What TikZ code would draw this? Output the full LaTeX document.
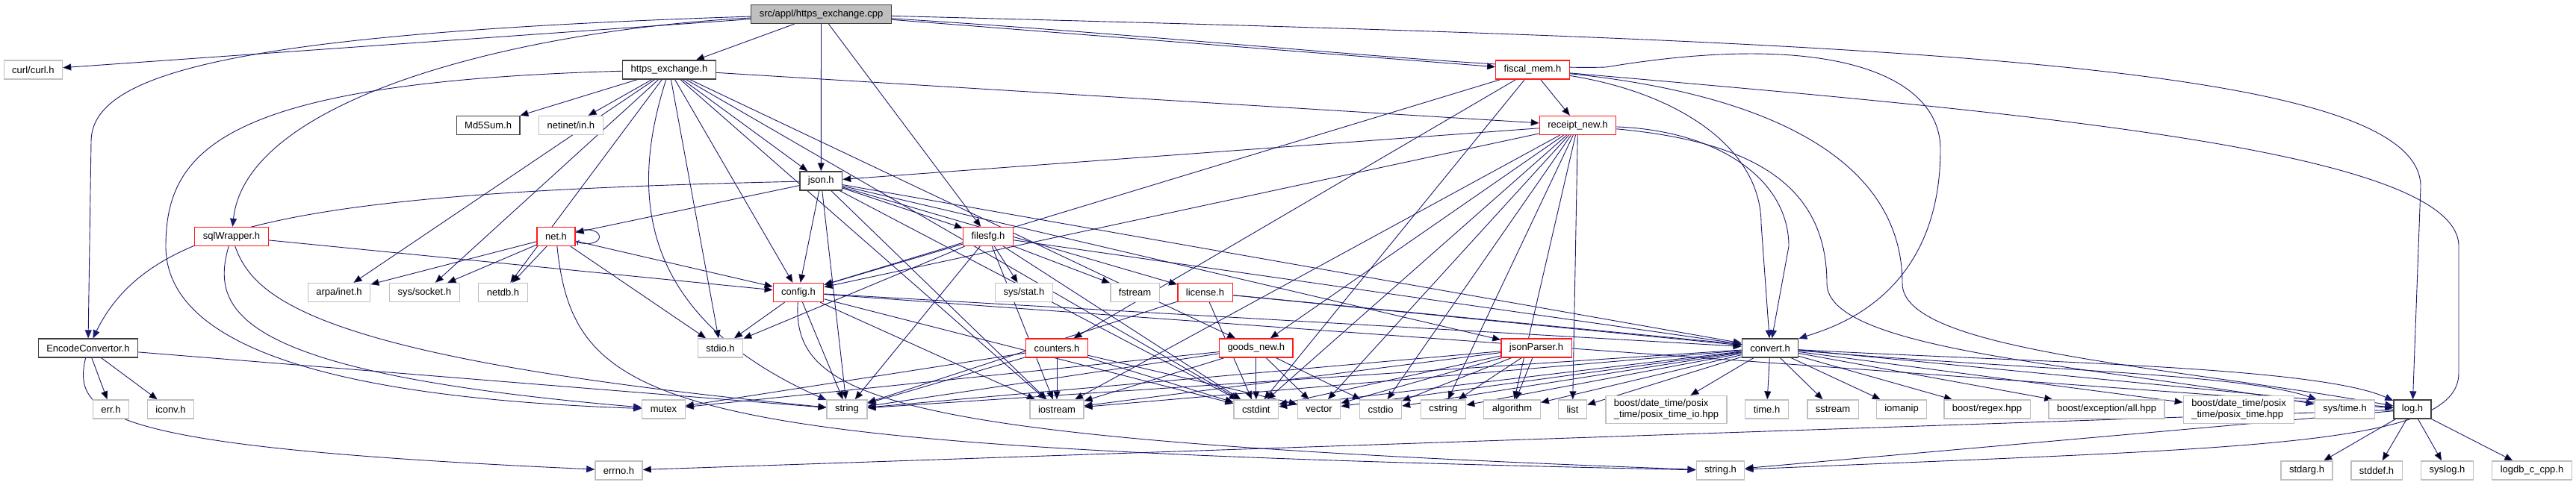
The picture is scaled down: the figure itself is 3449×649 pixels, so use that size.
\documentclass[tikz,border=0pt]{standalone}
\usepackage{fontspec}
\setmainfont{Liberation Sans}
\usepackage{tikz}
\usetikzlibrary{arrows.meta,backgrounds}

\definecolor{edgeblue}{HTML}{191970}

\begin{document}
\begin{tikzpicture}[x=1pt, y=-1pt,
  hdr/.style={rectangle, draw, fill=white, line width=1.3pt, inner xsep=11pt,
    inner ysep=5pt, minimum height=25pt, font=\fontsize{13}{15}\selectfont,
    align=center},
  rootfile/.style={hdr, draw=black!75, fill=black!25},
  dochdr/.style={hdr, draw=black!75},
  cuthdr/.style={hdr, draw=red!90},
  syshdr/.style={hdr, draw=black!25},
  dep/.style={draw=edgeblue, line width=0.9pt, -{Triangle[length=11pt,width=9pt]}}
]
  \useasboundingbox (0,0) rectangle (3449,649);

  % top rows
  \node[rootfile] (cpp) at (1099.5,19) {src/appl/https\_exchange.cpp};
  \node[syshdr] (curl) at (44.4,93.5) {curl/curl.h};
  \node[dochdr] (https) at (896,93.5) {https\_exchange.h};
  \node[cuthdr] (fiscal) at (2052,93.5) {fiscal\_mem.h};
  \node[dochdr] (md5) at (653.6,168) {Md5Sum.h};
  \node[syshdr] (netinet) at (764.4,168) {netinet/in.h};
  \node[cuthdr] (receipt) at (2112.5,168) {receipt\_new.h};
  \node[dochdr] (json) at (1099.3,242.5) {json.h};
  \node[cuthdr] (net) at (744.5,317) {net.h};
  \node[cuthdr] (sqlw) at (310,317) {sqlWrapper.h};
  \node[cuthdr] (filesfg) at (1323,317) {filesfg.h};

  % middle rows
  \node[syshdr] (arpa) at (454,392) {arpa/inet.h};
  \node[syshdr] (socket) at (568.4,392) {sys/socket.h};
  \node[syshdr] (netdb) at (673.5,392) {netdb.h};
  \node[cuthdr] (config) at (1069,392) {config.h};
  \node[syshdr] (sysstat) at (1371,392) {sys/stat.h};
  \node[syshdr] (fstream) at (1519.5,392) {fstream};
  \node[cuthdr] (license) at (1613.5,392) {license.h};
  \node[dochdr] (encode) at (117.9,466.5) {EncodeConvertor.h};
  \node[syshdr] (stdio) at (964.5,466.5) {stdio.h};
  \node[cuthdr] (counters) at (1415,466.5) {counters.h};
  \node[cuthdr] (goods) at (1681.8,466.5) {goods\_new.h};
  \node[cuthdr] (jsonparser) at (2057,466.5) {jsonParser.h};
  \node[dochdr] (convert) at (2370,466.5) {convert.h};

  % bottom rows
  \node[syshdr] (err) at (148.5,548.5) {err.h};
  \node[syshdr] (iconv) at (228.5,548.5) {iconv.h};
  \node[syshdr] (mutex) at (888.5,548.5) {mutex};
  \node[syshdr] (string) at (1134,548.5) {string};
  \node[syshdr] (iostream) at (1415,548.5) {iostream};
  \node[syshdr] (cstdint) at (1681.8,548.5) {cstdint};
  \node[syshdr] (vector) at (1766,548.5) {vector};
  \node[syshdr] (cstdio) at (1848.5,548.5) {cstdio};
  \node[syshdr] (cstring) at (1932.5,548.5) {cstring};
  \node[syshdr] (algorithm) at (2024.5,548.5) {algorithm};
  \node[syshdr] (list) at (2105.5,548.5) {list};
  \node[syshdr, align=left] (posixio) at (2231,549)
    {boost/date\_time/posix\\\_time/posix\_time\_io.hpp};
  \node[syshdr] (timeh) at (2365.5,548.5) {time.h};
  \node[syshdr] (sstream) at (2454,548.5) {sstream};
  \node[syshdr] (iomanip) at (2546,548.5) {iomanip};
  \node[syshdr] (regex) at (2660.5,548.5) {boost/regex.hpp};
  \node[syshdr] (exception) at (2820.5,548.5) {boost/exception/all.hpp};
  \node[syshdr, align=left] (posix) at (2997.5,549)
    {boost/date\_time/posix\\\_time/posix\_time.hpp};
  \node[syshdr] (systime) at (3139.5,548.5) {sys/time.h};
  \node[dochdr] (logh) at (3230,548.5) {log.h};
  \node[syshdr] (errno) at (828.5,630.5) {errno.h};
  \node[syshdr] (stringh) at (2303.5,630.5) {string.h};
  \node[syshdr] (stdarg) at (3088.5,630.5) {stdarg.h};
  \node[syshdr] (stddef) at (3182,630.5) {stddef.h};
  \node[syshdr] (syslog) at (3276.5,630.5) {syslog.h};
  \node[syshdr] (logdb) at (3390,630.5) {logdb\_c\_cpp.h};

  \begin{pgfonlayer}{background}
  % includes of the source file
  \draw[dep] (cpp) edge (curl) edge (https) edge (json) edge (filesfg) edge (fiscal);
  \draw[dep] (cpp) .. controls (300,45) and (122,100) .. (122,190) -- (encode);
  \draw[dep] (cpp) .. controls (700,40) and (330,130) .. (sqlw);
  \draw[dep] (cpp) .. controls (1600,50) and (2000,95) .. (2150,90)
    .. controls (2450,40) and (2598,100) .. (2598,200)
    .. controls (2598,400) and (2450,440) .. (convert);
  \draw[dep] (cpp) .. controls (2500,55) and (3241,80) .. (3241,250) -- (logh);

  % https_exchange.h
  \draw[dep] (https) edge (md5) edge (netinet) edge (json) edge (config)
    edge (receipt) edge (arpa) edge (socket) edge (netdb) edge (stdio)
    edge (iostream) edge (cstdint) edge (goods);
  \draw[dep] (https) .. controls (300,110) and (222,200) .. (222,330)
    .. controls (222,480) and (500,535) .. (mutex);
  \draw[dep] (https) .. controls (846,250) and (846,420) .. (string);

  % sqlWrapper.h, EncodeConvertor.h
  \draw[dep] (sqlw) edge (config);
  \draw[dep] (sqlw) .. controls (280,420) and (320,500) .. (mutex);
  \draw[dep] (sqlw) .. controls (340,400) and (420,480) .. (string);
  \draw[dep] (encode) edge (err) edge (iconv) edge (string);
  \draw[dep] (encode) .. controls (95,560) and (150,600) .. (errno);

  % json.h, net.h, filesfg.h
  \draw[dep] (json) edge (net) edge (config) edge (filesfg) edge (license)
    edge (jsonparser) edge (string) edge (iostream) edge (cstdint) edge (convert);
  \draw[dep] (json) .. controls (400,258) and (200,300) .. (encode);
  \draw[dep] (net) edge (arpa) edge (socket) edge (netdb) edge (config) edge (stdio)
    edge[loop right] (net);
  \draw[dep] (net) .. controls (770,560) and (900,600) .. (stringh);
  \draw[dep] (filesfg) edge (config) edge (sysstat) edge (fstream) edge (stdio)
    edge (string) edge (iostream) edge (cstdint) edge (convert);

  % config.h, license.h, counters.h, goods_new.h, jsonParser.h
  \draw[dep] (config) edge (stdio) edge (string) edge (iostream) edge (cstdint)
    edge (convert) edge (logh);
  \draw[dep] (config) .. controls (1060,540) and (1200,590) .. (stringh);
  \draw[dep] (license) edge (string) edge (cstdint) edge (convert) edge (logh);
  \draw[dep] (counters) edge (mutex) edge (string) edge (iostream) edge (cstdint)
    edge (vector);
  \draw[dep] (goods) edge (mutex) edge (string) edge (iostream) edge (cstdint)
    edge (vector) edge (cstdio);
  \draw[dep] (jsonparser) edge (string) edge (iostream) edge (cstdint) edge (vector)
    edge (cstdio) edge (cstring) edge (algorithm);

  % fiscal_mem.h, receipt_new.h
  \draw[dep] (fiscal) edge (config) edge (receipt) edge (cstdint) edge (counters);
  \draw[dep] (fiscal) .. controls (2250,125) and (2358,200) .. (2358,300) -- (convert);
  \draw[dep] (fiscal) .. controls (2400,130) and (2547,230) .. (2547,380)
    .. controls (2547,470) and (2900,490) .. (logh);
  \draw[dep] (fiscal) .. controls (2700,150) and (3292,200) .. (3292,330) -- (3292,500)
    .. controls (3292,600) and (3000,600) .. (stringh);
  \draw[dep] (receipt) edge (json) edge (config) edge (goods) edge (iostream)
    edge (cstdint) edge (vector) edge (cstdio) edge (cstring) edge (algorithm)
    edge (list);
  \draw[dep] (receipt) .. controls (2300,175) and (2395,240) .. (2395,330) -- (convert);
  \draw[dep] (receipt) .. controls (2350,190) and (2446,250) .. (2446,380)
    .. controls (2446,470) and (2800,490) .. (systime);

  % convert.h, log.h
  \draw[dep] (convert) edge (string) edge (iostream) edge (cstdint) edge (vector)
    edge (cstdio) edge (cstring) edge (algorithm) edge (list) edge (posixio)
    edge (timeh) edge (sstream) edge (iomanip) edge (regex) edge (exception)
    edge (posix);
  \draw[dep] (convert) .. controls (2700,495) and (3000,500) .. (systime);
  \draw[dep] (convert) .. controls (2700,485) and (3100,490) .. (logh);
  \draw[dep] (logh) edge (errno) edge (stringh) edge (stdarg) edge (stddef)
    edge (syslog) edge (logdb);
  \end{pgfonlayer}
\end{tikzpicture}
\end{document}
